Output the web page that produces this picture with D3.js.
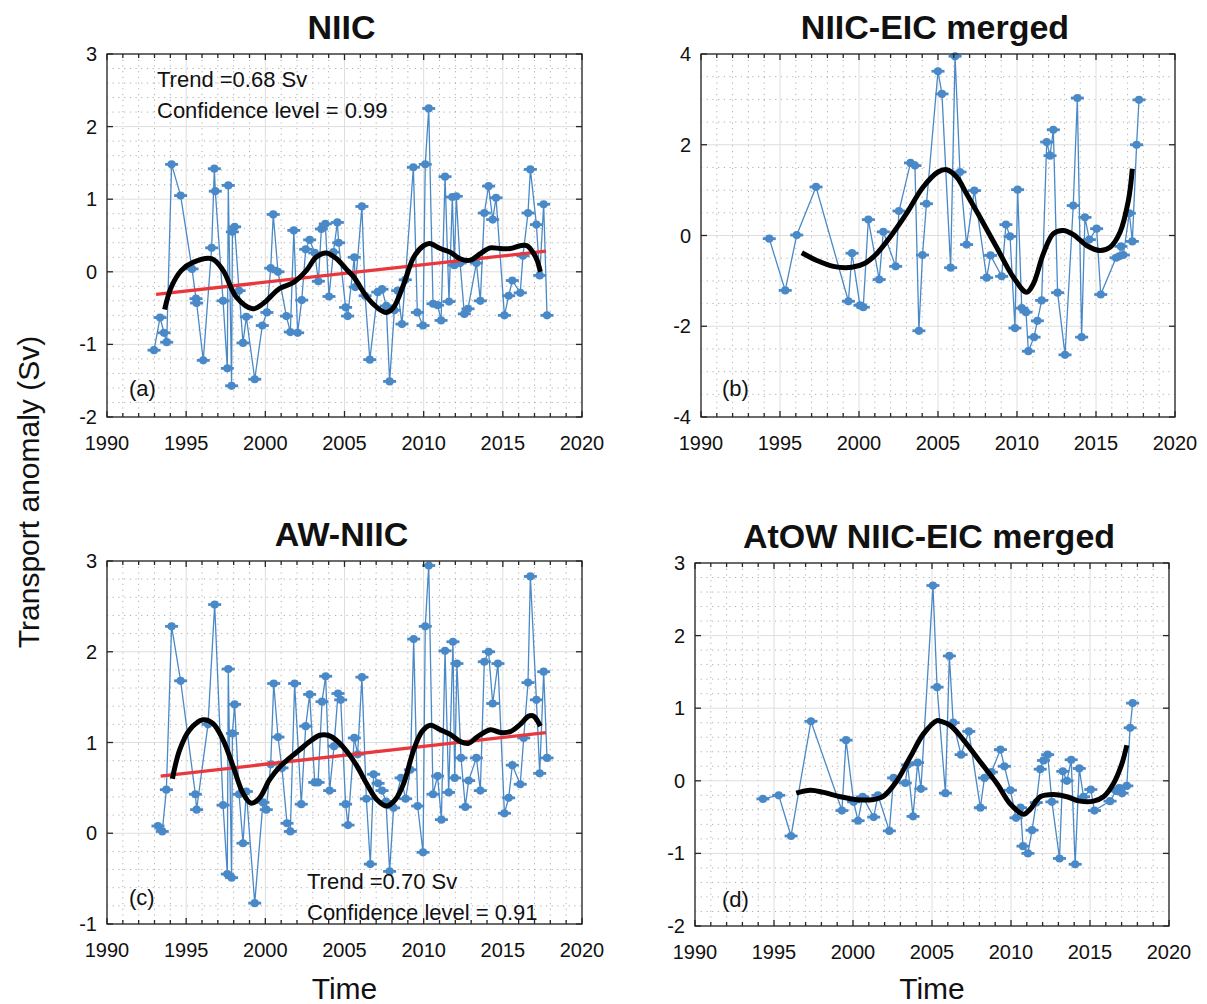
<!DOCTYPE html>
<html><head><meta charset="utf-8">
<script src="https://cdn.jsdelivr.net/npm/d3@7"></script>
<style>body{margin:0;background:#fff} text{font-family:"Liberation Sans",Arial,Helvetica,sans-serif;fill:#111}</style>
</head><body><svg id="c" width="1207" height="1004"></svg>
<script>
// ---------- DATA ----------
const xTicks = [1990,1995,2000,2005,2010,2015,2020];
const titles = ["NIIC","NIIC-EIC merged","AW-NIIC","AtOW NIIC-EIC merged"];
const panelLabels = ["(a)","(b)","(c)","(d)"];

const aTime = [1992.97,1993.35,1993.6,1993.77,1994.08,1994.65,1995.37,1995.62,1995.66,1996.08,1996.61,1996.78,1996.84,1997.33,1997.6,1997.66,1997.87,1997.92,1998.06,1998.34,1998.59,1998.8,1999.33,1999.81,2000.1,2000.34,2000.5,2000.8,2001.33,2001.58,2001.8,2002.04,2002.3,2002.55,2002.8,2003.12,2003.35,2003.54,2003.79,2004.02,2004.3,2004.55,2004.63,2005.07,2005.2,2005.62,2005.68,2006.1,2006.3,2006.6,2007.1,2007.37,2007.64,2007.85,2008.15,2008.36,2008.63,2008.84,2009.35,2009.6,2009.96,2010.1,2010.32,2010.59,2010.88,2011.1,2011.35,2011.6,2011.81,2011.94,2012.06,2012.3,2012.57,2012.8,2013.33,2013.58,2013.83,2014.1,2014.36,2014.57,2015.1,2015.37,2015.6,2016.1,2016.27,2016.59,2016.74,2017.12,2017.33,2017.58,2017.79];
const aValue = [-1.08,-0.63,-0.84,-0.97,1.48,1.05,0.04,-0.37,-0.43,-1.22,0.33,1.42,1.11,-0.4,-1.33,1.19,-1.57,0.55,0.62,-0.26,-0.98,-0.62,-1.48,-0.74,-0.56,0.05,0.79,0.0,-0.61,-0.83,0.57,-0.84,-0.39,0.31,0.44,0.26,-0.13,0.59,0.66,-0.34,0.27,0.68,0.4,-0.49,-0.61,0.2,-0.21,0.9,-0.33,-1.21,-0.28,-0.24,-0.47,-1.51,-0.53,-0.26,-0.72,-0.11,1.44,-0.56,-0.74,1.48,2.25,-0.44,-0.46,-0.67,1.31,-0.41,1.03,0.09,1.04,0.12,-0.58,-0.51,0.12,-0.4,0.81,1.18,0.72,1.02,-0.6,-0.33,-0.12,-0.29,0.22,0.81,1.41,0.65,-0.05,0.93,-0.6];
const aSmoothTime = [1993.64,1994.06,1994.7,1995.43,1996.6,1997.33,1998.17,1999.2,1999.85,2000.9,2001.75,2002.6,2003.2,2003.85,2004.5,2005.1,2005.58,2006.42,2007.05,2007.64,2008.1,2008.74,2009.37,2010,2010.38,2011.05,2011.68,2012.3,2012.95,2013.58,2014.2,2014.84,2015.47,2016.1,2016.53,2016.95,2017.16,2017.37];
const aSmoothValue = [-0.52,-0.21,0.02,0.13,0.18,0.02,-0.35,-0.51,-0.44,-0.23,-0.15,0.02,0.2,0.26,0.18,0.04,-0.07,-0.35,-0.49,-0.56,-0.49,-0.17,0.2,0.36,0.39,0.32,0.27,0.18,0.16,0.25,0.33,0.32,0.32,0.36,0.36,0.25,0.16,0.0];
const aTrendTime = [1993.1,2017.73];
const aTrendValue = [-0.31,0.285];

const bTime = [1994.32,1995.33,1996.06,1997.28,1999.33,1999.56,2000.06,2000.27,2000.59,2001.28,2001.54,2002.32,2002.53,2003.26,2003.54,2003.79,2004.02,2004.27,2005.0,2005.25,2005.8,2006.08,2006.39,2006.81,2007.3,2008.08,2008.33,2009.03,2009.3,2009.56,2009.87,2010.04,2010.3,2010.57,2010.72,2011.08,2011.29,2011.56,2011.88,2012.09,2012.3,2012.57,2013.04,2013.56,2013.82,2014.09,2014.3,2014.58,2015.04,2015.3,2016.27,2016.46,2016.58,2016.73,2017.11,2017.3,2017.57,2017.72];
const bValue = [-0.07,-1.21,0.01,1.07,-1.45,-0.39,-1.54,-1.58,0.35,-0.97,0.08,-0.68,0.54,1.6,1.54,-2.1,-0.43,0.7,3.62,3.12,-0.71,3.95,1.4,-0.2,0.99,-0.93,-0.44,-0.9,0.24,-0.02,-2.04,1.01,-1.6,-1.69,-2.55,-2.24,-1.88,-1.43,2.06,1.76,2.33,-1.26,-2.63,0.66,3.03,-2.24,0.4,-0.09,0.15,-1.3,-0.49,-0.46,-0.24,-0.43,0.49,-0.13,2.0,2.99];
const bSmoothTime = [1996.38,1997.33,1998.38,1999.54,2000.38,2001.12,2001.96,2003.0,2004.06,2005.0,2005.55,2006.18,2006.81,2007.66,2008.71,2009.77,2010.61,2011.03,2011.67,2012.3,2012.93,2013.57,2014.41,2015.25,2015.89,2016.52,2017.05,2017.3];
const bSmoothValue = [-0.38,-0.55,-0.68,-0.7,-0.61,-0.4,-0.04,0.48,1.07,1.4,1.45,1.29,0.92,0.4,-0.26,-0.92,-1.25,-1.07,-0.4,0.04,0.11,0.02,-0.22,-0.33,-0.26,0.07,0.77,1.47];

const cTime = [1993.22,1993.49,1993.75,1994.08,1994.65,1995.58,1995.66,1996.38,1996.8,1997.33,1997.6,1997.66,1997.87,1997.92,1998.06,1998.34,1998.59,1998.8,1999.33,1999.85,2000.06,2000.34,2000.53,2000.8,2001.05,2001.37,2001.58,2001.85,2002.27,2002.55,2002.8,2003.12,2003.33,2003.58,2003.81,2004.06,2004.34,2004.59,2004.76,2005.07,2005.22,2005.62,2005.83,2006.1,2006.38,2006.63,2006.84,2007.12,2007.37,2007.62,2007.85,2008.1,2008.57,2008.86,2009.16,2009.37,2009.62,2009.96,2010.1,2010.32,2010.59,2010.88,2011.12,2011.35,2011.58,2011.85,2011.96,2012.1,2012.36,2012.63,2012.84,2013.33,2013.58,2013.83,2014.1,2014.36,2014.69,2015.1,2015.37,2015.6,2016.1,2016.32,2016.59,2016.74,2017.12,2017.33,2017.58,2017.79];
const cValue = [0.08,0.02,0.48,2.28,1.68,0.43,0.26,1.2,2.52,0.31,-0.45,1.81,-0.49,1.1,1.42,0.43,-0.11,0.46,-0.77,0.34,0.26,0.76,1.65,1.06,0.72,0.11,0.02,1.65,0.32,1.18,1.53,0.56,0.56,1.45,1.73,0.47,0.96,1.54,1.47,0.32,0.09,1.05,0.87,1.72,0.38,-0.34,0.65,0.55,0.47,0.35,-0.42,0.28,0.61,0.38,0.7,2.14,0.3,-0.21,2.28,2.95,0.43,0.63,0.15,2.01,0.45,2.11,0.61,1.87,0.83,0.29,0.58,0.83,0.47,1.89,2.0,1.43,1.87,0.22,0.39,0.75,0.54,1.05,1.66,2.83,1.47,0.66,1.78,0.83];
const cSmoothTime = [1994.13,1994.59,1995.22,1996.06,1996.69,1997.33,1997.96,1998.59,1999.12,1999.64,2000.27,2000.9,2001.54,2002.17,2002.8,2003.43,2003.96,2004.59,2005.2,2005.79,2006.42,2007.05,2007.68,2008.21,2008.74,2009.37,2009.89,2010.42,2011.05,2011.68,2012.32,2012.84,2013.37,2014.21,2014.84,2015.47,2016.1,2016.63,2016.95,2017.37];
const cSmoothValue = [0.6,0.92,1.14,1.25,1.21,1.03,0.74,0.44,0.33,0.39,0.59,0.73,0.83,0.92,1.01,1.08,1.08,1.01,0.89,0.74,0.54,0.37,0.3,0.37,0.55,0.92,1.12,1.19,1.14,1.09,1.01,0.99,1.06,1.14,1.11,1.12,1.2,1.29,1.29,1.18];
const cTrendTime = [1993.39,2017.73];
const cTrendValue = [0.63,1.11];

const dTime = [1994.3,1995.3,1996.08,1997.34,1999.3,1999.56,2000.04,2000.32,2000.61,2001.31,2001.58,2002.3,2002.57,2003.31,2003.46,2003.8,2004.09,2004.3,2005.06,2005.32,2005.85,2006.1,2006.34,2006.84,2007.33,2008.06,2008.32,2008.76,2009.33,2009.58,2009.96,2010.32,2010.6,2010.76,2011.07,2011.33,2011.6,2011.85,2012.06,2012.32,2012.59,2013.07,2013.28,2013.54,2013.81,2014.06,2014.32,2014.59,2015.05,2015.28,2016.27,2016.65,2016.84,2017.03,2017.33,2017.54,2017.7];
const dValue = [-0.25,-0.2,-0.76,0.82,-0.41,0.56,-0.29,-0.55,-0.22,-0.5,-0.2,-0.69,0.04,-0.03,0.22,-0.49,0.25,-0.11,2.69,1.29,-0.17,1.72,0.8,0.36,0.68,-0.37,0.04,0.12,0.43,0.2,-0.13,-0.51,-0.37,-0.9,-1.0,-0.68,-0.3,0.16,0.28,0.36,-0.29,-1.07,0.13,0.0,0.29,-1.15,0.17,-0.22,-0.12,-0.41,-0.28,-0.14,-0.1,-0.17,-0.07,0.73,1.07];
const dSmoothTime = [1996.41,1997.3,1998.14,1999.2,2000.25,2001.2,2001.94,2002.78,2003.63,2004.47,2005.32,2005.54,2006.17,2007.0,2008.06,2009.12,2009.96,2010.8,2011.22,2011.85,2012.69,2013.54,2014.38,2015.22,2015.85,2016.48,2017.01,2017.33];
const dSmoothValue = [-0.17,-0.13,-0.16,-0.22,-0.26,-0.26,-0.21,0.0,0.33,0.65,0.83,0.82,0.76,0.56,0.26,-0.04,-0.32,-0.46,-0.39,-0.22,-0.19,-0.22,-0.28,-0.28,-0.22,-0.04,0.23,0.49];

const aYTicks = [-2,-1,0,1,2,3];
const bYTicks = [-4,-2,0,2,4];
const cYTicks = [-1,0,1,2,3];
const dYTicks = [-2,-1,0,1,2,3];

const annotations = [
  ["Trend =0.68 Sv","Confidence level = 0.99"],
  null,
  ["Trend =0.70 Sv","Confidence level = 0.91"],
  null
];

// ---------- LAYOUT ----------
const zip = (a,b)=>a.map((v,i)=>[v,b[i]]);
const panels = [
  {box:[107,582,54,417], dom:[-2,3], ticks:aYTicks, minor:0.2, pts:zip(aTime,aValue), sm:zip(aSmoothTime,aSmoothValue), tr:zip(aTrendTime,aTrendValue), ann:[157,87,118], lab:[129,396]},
  {box:[701,1175,54,417], dom:[-4,4], ticks:bYTicks, minor:0.5, pts:zip(bTime,bValue), sm:zip(bSmoothTime,bSmoothValue), tr:null, lab:[722,396]},
  {box:[107,582,561,924], dom:[-1,3], ticks:cYTicks, minor:0.2, pts:zip(cTime,cValue), sm:zip(cSmoothTime,cSmoothValue), tr:zip(cTrendTime,cTrendValue), ann:[307,889,920], lab:[129,905]},
  {box:[695,1169,563,926], dom:[-2,3], ticks:dYTicks, minor:0.2, pts:zip(dTime,dValue), sm:zip(dSmoothTime,dSmoothValue), tr:null, lab:[722,907]}
];

const svg = d3.select("#c");
const BLUE = "#4A89C7", RED = "#E8383D";

panels.forEach((p,i)=>{
  const [L,R,T,B] = p.box;
  const x = d3.scaleLinear().domain([1990,2020]).range([L,R]);
  const y = d3.scaleLinear().domain(p.dom).range([B,T]);
  const g = svg.append("g");

  // minor grid
  const minorX = d3.range(1990,2021,1).filter(v=>v%5!==0);
  const nMinor = Math.round((p.dom[1]-p.dom[0])/p.minor);
  const minorY = d3.range(0,nMinor+1).map(k=>+(p.dom[0]+k*p.minor).toFixed(3)).filter(v=>!p.ticks.some(t=>Math.abs(t-v)<1e-6));
  g.selectAll(".mx").data(minorX).join("line")
    .attr("x1",d=>x(d)).attr("x2",d=>x(d)).attr("y1",T).attr("y2",B)
    .attr("stroke","#9a9a9a").attr("stroke-width",0.8).attr("stroke-dasharray","1.2,4.5");
  g.selectAll(".my").data(minorY).join("line")
    .attr("y1",d=>y(d)).attr("y2",d=>y(d)).attr("x1",L).attr("x2",R)
    .attr("stroke","#9a9a9a").attr("stroke-width",0.8).attr("stroke-dasharray","1.2,4.5");
  // major grid
  g.selectAll(".gx").data(xTicks).join("line")
    .attr("x1",d=>x(d)).attr("x2",d=>x(d)).attr("y1",T).attr("y2",B)
    .attr("stroke","#dedede").attr("stroke-width",1);
  g.selectAll(".gy").data(p.ticks).join("line")
    .attr("y1",d=>y(d)).attr("y2",d=>y(d)).attr("x1",L).attr("x2",R)
    .attr("stroke","#dedede").attr("stroke-width",1);

  // data line
  g.append("path").datum(p.pts)
    .attr("d",d3.line().x(d=>x(d[0])).y(d=>y(d[1])))
    .attr("fill","none").attr("stroke",BLUE).attr("stroke-width",1.3);
  // markers with horizontal bars
  const mk = g.selectAll(".mk").data(p.pts).join("g");
  mk.append("line").attr("x1",d=>x(d[0])-6.5).attr("x2",d=>x(d[0])+6.5)
    .attr("y1",d=>y(d[1])).attr("y2",d=>y(d[1]))
    .attr("stroke",BLUE).attr("stroke-width",2.8);
  mk.append("circle").attr("cx",d=>x(d[0])).attr("cy",d=>y(d[1])).attr("r",4.1).attr("fill",BLUE);

  // trend
  if (p.tr) g.append("path").datum(p.tr)
    .attr("d",d3.line().x(d=>x(d[0])).y(d=>y(d[1])))
    .attr("fill","none").attr("stroke",RED).attr("stroke-width",3.3);
  // smooth
  g.append("path").datum(p.sm)
    .attr("d",d3.line().curve(d3.curveCatmullRom.alpha(0.5)).x(d=>x(d[0])).y(d=>y(d[1])))
    .attr("fill","none").attr("stroke","#000").attr("stroke-width",5).attr("stroke-linecap","butt");

  // axes box and ticks
  const ax = g.append("g").attr("stroke","#262626").attr("stroke-width",1.3);
  ax.append("rect").attr("x",L).attr("y",T).attr("width",R-L).attr("height",B-T).attr("fill","none");
  const allX = d3.range(1990,2021,1);
  allX.forEach(v=>{
    const len = v%5===0 ? 6 : 4;
    ax.append("line").attr("x1",x(v)).attr("x2",x(v)).attr("y1",B).attr("y2",B-len);
    ax.append("line").attr("x1",x(v)).attr("x2",x(v)).attr("y1",T).attr("y2",T+len);
  });
  p.ticks.forEach(v=>{
    ax.append("line").attr("x1",L).attr("x2",L+6).attr("y1",y(v)).attr("y2",y(v));
    ax.append("line").attr("x1",R).attr("x2",R-6).attr("y1",y(v)).attr("y2",y(v));
  });

  // tick labels
  g.selectAll(".xl").data(xTicks).join("text")
    .attr("x",d=>x(d)).attr("y",B+33).attr("text-anchor","middle")
    .attr("font-size",20).text(d=>d);
  g.selectAll(".yl").data(p.ticks).join("text")
    .attr("x",L-10).attr("y",d=>y(d)+7).attr("text-anchor","end")
    .attr("font-size",20).text(d=>d);

  // title
  g.append("text").attr("x",(L+R)/2 - 3).attr("y",T-15).attr("text-anchor","middle")
    .attr("font-size",34).attr("font-weight","bold").text(titles[i]);
  // panel label
  g.append("text").attr("x",p.lab[0]).attr("y",p.lab[1]).attr("font-size",22).text(panelLabels[i]);
  // annotations
  if (annotations[i]) {
    g.append("text").attr("x",p.ann[0]).attr("y",p.ann[1]).attr("font-size",22).text(annotations[i][0]);
    g.append("text").attr("x",p.ann[0]).attr("y",p.ann[2]).attr("font-size",22).text(annotations[i][1]);
  }
});

// shared labels
svg.append("text").attr("transform","translate(39,492) rotate(-90)").attr("text-anchor","middle")
  .attr("font-size",30).text("Transport anomaly (Sv)");
svg.append("text").attr("x",344.5).attr("y",999).attr("text-anchor","middle").attr("font-size",30).text("Time");
svg.append("text").attr("x",932).attr("y",999).attr("text-anchor","middle").attr("font-size",30).text("Time");
</script></body></html>
